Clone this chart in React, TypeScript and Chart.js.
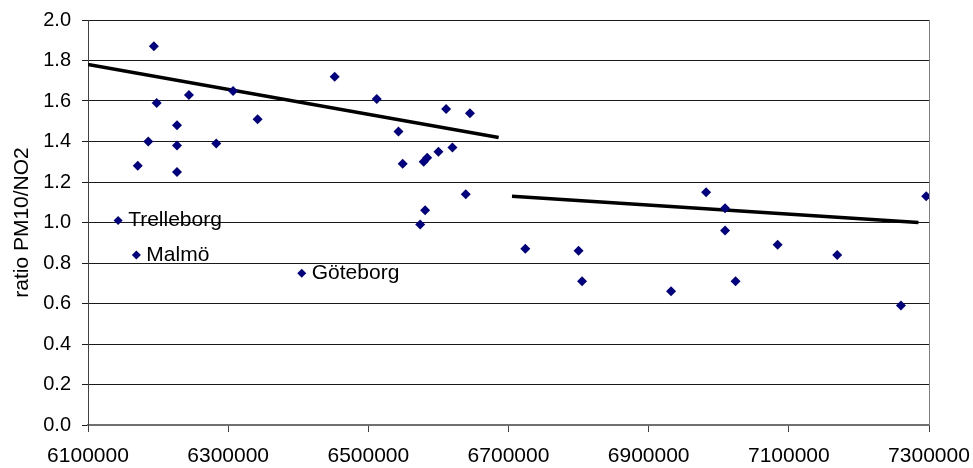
import { useEffect, useRef } from "react";
import { Chart, registerables } from "chart.js";

Chart.register(...registerables);

// Station northing (m) and PM10/NO2 ratio
const stationX = [
  6194000, 6198000, 6244000, 6227000, 6186000, 6227000, 6171000, 6227000,
  6283000, 6307000, 6342000, 6452000, 6512000, 6543000, 6549000, 6579000,
  6584000, 6600000, 6611000, 6620000, 6645000, 6639000, 6581000, 6574000,
  6724000, 6800000, 6805000, 6932000, 6982000, 7009000, 7009000, 7024000,
  7084000, 7169000, 7260000, 7296000,
];
const stationRatio = [
  1.87, 1.59, 1.63, 1.48, 1.4, 1.38, 1.28, 1.25,
  1.39, 1.65, 1.51, 1.72, 1.61, 1.45, 1.29, 1.3,
  1.32, 1.35, 1.56, 1.37, 1.54, 1.14, 1.06, 0.99,
  0.87, 0.86, 0.71, 0.66, 1.15, 1.07, 0.96, 0.71,
  0.89, 0.84, 0.59, 1.13,
];

// Named cities
const cityNames = ["Trelleborg", "Malmö", "Göteborg"];
const cityX = [6143000, 6169000, 6405000];
const cityRatio = [1.01, 0.84, 0.75];

// Linear trends, southern and northern part
const southTrendX = [6100000, 6686000];
const southTrendY = [1.78, 1.42];
const northTrendX = [6705000, 7285000];
const northTrendY = [1.13, 1.0];

const xTicks = [6100000, 6300000, 6500000, 6700000, 6900000, 7100000, 7300000];
const yTicks = [0, 0.2, 0.4, 0.6, 0.8, 1.0, 1.2, 1.4, 1.6, 1.8, 2.0];

const FONT = '"Liberation Sans", Arial, sans-serif';
const NAVY = "#000080";

const toPoints = (xs: number[], ys: number[]) => xs.map((x, i) => ({ x, y: ys[i] }));

const cityLabels = {
  id: "cityLabels",
  afterDatasetsDraw(chart: any) {
    const meta = chart.getDatasetMeta(1);
    const ctx = chart.ctx;
    ctx.save();
    ctx.font = `21px ${FONT}`;
    ctx.fillStyle = "#000";
    ctx.textAlign = "left";
    ctx.textBaseline = "middle";
    meta.data.forEach((pt: any, i: number) => {
      ctx.fillText(cityNames[i], pt.x + 10, pt.y);
    });
    ctx.restore();
  },
};

const plotFrame = {
  id: "plotFrame",
  beforeDatasetsDraw(chart: any) {
    const { ctx, chartArea } = chart;
    ctx.save();
    ctx.strokeStyle = "#808080";
    ctx.lineWidth = 1;
    ctx.beginPath();
    const x = Math.round(chartArea.right) + 0.5;
    ctx.moveTo(x, chartArea.top);
    ctx.lineTo(x, chartArea.bottom);
    ctx.stroke();
    ctx.restore();
  },
};

export default function App() {
  const canvasRef = useRef<HTMLCanvasElement | null>(null);

  useEffect(() => {
    if (!canvasRef.current) return;
    const chart = new Chart(canvasRef.current, {
      type: "scatter",
      data: {
        datasets: [
          {
            data: toPoints(stationX, stationRatio),
            pointStyle: "rectRot",
            pointRadius: 5,
            backgroundColor: NAVY,
            borderColor: NAVY,
            borderWidth: 0,
          },
          {
            data: toPoints(cityX, cityRatio),
            pointStyle: "rectRot",
            pointRadius: 4.5,
            backgroundColor: NAVY,
            borderColor: NAVY,
            borderWidth: 0,
          },
          {
            data: toPoints(southTrendX, southTrendY),
            showLine: true,
            pointRadius: 0,
            borderColor: "#000",
            borderWidth: 3.5,
          },
          {
            data: toPoints(northTrendX, northTrendY),
            showLine: true,
            pointRadius: 0,
            borderColor: "#000",
            borderWidth: 3.5,
          },
        ],
      },
      options: {
        animation: false,
        responsive: false,
        layout: { padding: { top: 20, right: 44, left: 0, bottom: 0 } },
        plugins: {
          legend: { display: false },
          tooltip: { enabled: false },
        },
        scales: {
          x: {
            type: "linear",
            min: 6100000,
            max: 7300000,
            afterBuildTicks: (s: any) => {
              s.ticks = xTicks.map((v) => ({ value: v }));
            },
            afterFit: (s: any) => {
              s.height = 43;
              s.paddingLeft = 0;
              s.paddingRight = 0;
            },
            grid: {
              drawOnChartArea: false,
              drawTicks: true,
              tickLength: 7,
              color: "#404040",
              lineWidth: 1,
            },
            border: { display: true, color: "#707070", width: 2 },
            ticks: {
              autoSkip: false,
              maxRotation: 0,
              padding: 12,
              color: "#000",
              font: { family: FONT, size: 21 },
              callback: (v: any) => String(v),
            },
          },
          y: {
            type: "linear",
            min: 0,
            max: 2,
            afterBuildTicks: (s: any) => {
              s.ticks = yTicks.map((v) => ({ value: v }));
            },
            afterFit: (s: any) => {
              s.width = 88;
              s.paddingTop = 0;
              s.paddingBottom = 0;
            },
            grid: { color: "#1a1a1a", lineWidth: 1, tickLength: 6 },
            border: { display: true, color: "#404040", width: 1 },
            ticks: {
              padding: 11,
              color: "#000",
              font: { family: FONT, size: 20 },
              callback: (v: any) => Number(v).toFixed(1),
            },
            title: {
              display: true,
              text: "ratio PM10/NO2",
              color: "#000",
              font: { family: FONT, size: 21 },
              padding: { top: 10, bottom: 0 },
            },
          },
        },
      },
      plugins: [plotFrame, cityLabels],
    });
    return () => chart.destroy();
  }, []);

  return (
    <div style={{ position: "fixed", left: 0, top: 0, width: 973, height: 468, background: "#fff" }}>
      <canvas ref={canvasRef} width={973} height={468} style={{ display: "block" }} />
    </div>
  );
}
